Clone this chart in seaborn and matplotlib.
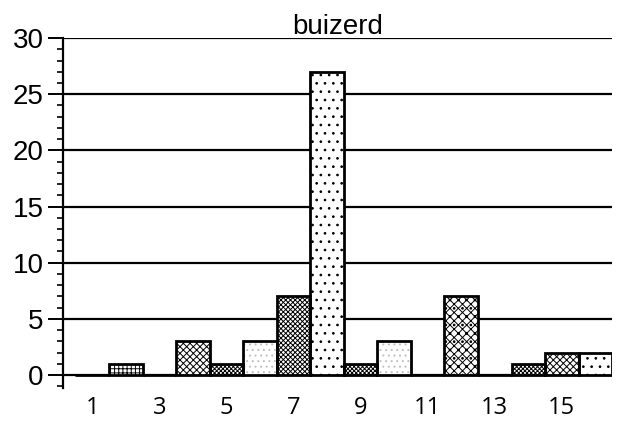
import matplotlib
matplotlib.use("Agg")
import matplotlib.pyplot as plt
from matplotlib.ticker import MultipleLocator
import seaborn as sns

# data
categories = list(range(1, 17))
counts = [0, 1, 0, 3, 1, 3, 7, 27, 1, 3, 0, 7, 0, 1, 2, 2]
shown_labels = ["1", "3", "5", "7", "9", "11", "13", "15"]
title = "buizerd"

# fill pattern and pattern colour of each bar (styling only)
hatches = ["", "++++", "", "xxxxx", "xxxxxxxx", "...", "xxxxxxx", "..",
           "xxxxxxxx", "...", "", "xxxx..", "", "xxxxxxxx", "xxxxx", ".."]
hatch_colors = ["black", "black", "black", "black", "black", "0.75", "black", "black",
                "black", "0.75", "black", "black", "black", "black", "black", "black"]

sns.set_style("white")
plt.rcParams["font.family"] = ["Liberation Sans", "DejaVu Sans"]
plt.rcParams["text.color"] = "black"
plt.rcParams["xtick.color"] = "black"
plt.rcParams["ytick.color"] = "black"
plt.rcParams["hatch.linewidth"] = 0.7

fig = plt.figure(figsize=(6.24, 4.23), dpi=100)
ax = fig.add_axes([0.101, 0.083, 0.880, 0.827])

# filled, patterned bars
sns.barplot(x=categories, y=counts, color="white", linewidth=0,
            width=1.0, saturation=1, ax=ax, zorder=3)
for patch, h, hc in zip(ax.patches, hatches, hatch_colors):
    patch.set_hatch(h)
    patch.set_facecolor("white")
    patch.set_edgecolor(hc)
    patch.set_linewidth(0)

# black outlines on top
sns.barplot(x=categories, y=counts, fill=False, edgecolor="black",
            linewidth=2, width=1.0, ax=ax, zorder=4)

ax.set_ylim(-1.15, 30)
ax.set_xlim(-0.87, 15.5)
ax.yaxis.set_major_locator(MultipleLocator(5))
ax.yaxis.set_minor_locator(MultipleLocator(1))
ax.grid(axis="y", which="major", color="black", linewidth=1.6, zorder=0)
ax.set_axisbelow(True)

ax.set_xticks(range(0, 16, 2))
ax.set_xticklabels(shown_labels, fontfamily="Open Sans", fontsize=17)
ax.tick_params(axis="x", length=0, pad=6, labelcolor="black")
ax.tick_params(axis="y", which="major", direction="out", length=11,
               width=1.4, color="black", labelcolor="black", labelsize=20,
               pad=3, left=True)
ax.tick_params(axis="y", which="minor", direction="out", length=4.5,
               width=1.2, color="black", left=True)

for side in ["top", "right", "bottom"]:
    ax.spines[side].set_visible(False)
ax.spines["left"].set_color("black")
ax.spines["left"].set_linewidth(1.6)

ax.set_xlabel("")
ax.set_ylabel("")
ax.set_title(title, fontsize=20, pad=3, color="black")

fig.savefig("out.png", dpi=100)
